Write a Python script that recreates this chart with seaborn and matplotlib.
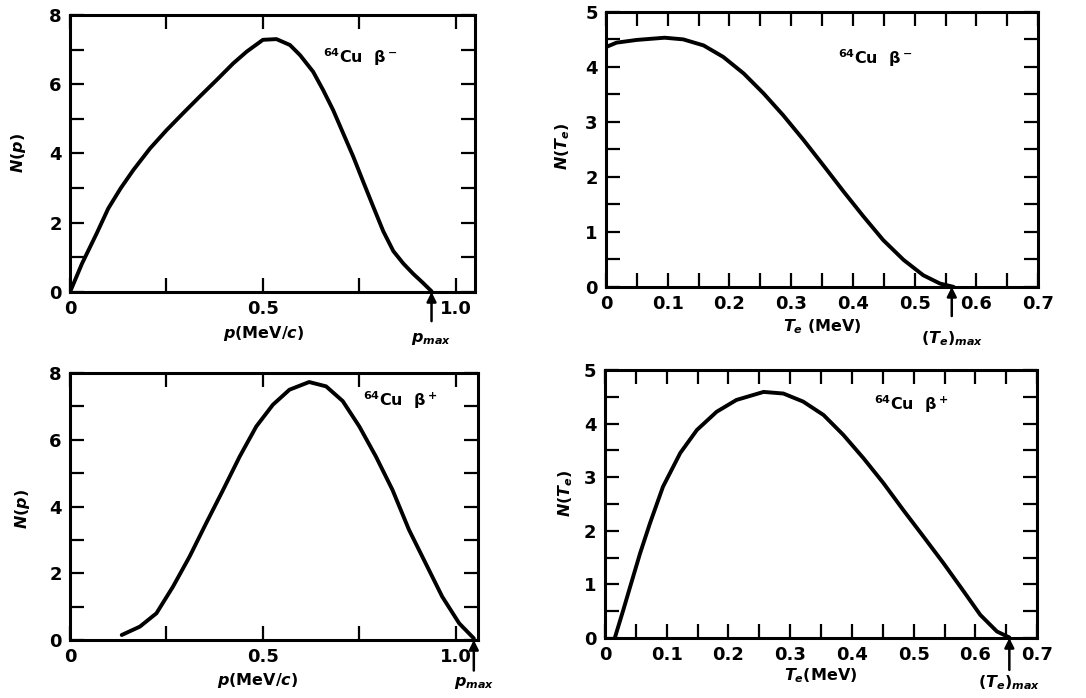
import numpy as np
import pandas as pd
import seaborn as sns
import matplotlib.pyplot as plt

# beta- momentum spectrum (top left)
p_minus = [0.0, 0.031, 0.069, 0.099, 0.131, 0.164, 0.207, 0.25, 0.293, 0.336,
           0.38, 0.423, 0.458, 0.50, 0.535, 0.57, 0.596, 0.63, 0.656, 0.682,
           0.708, 0.734, 0.76, 0.786, 0.812, 0.838, 0.864, 0.889, 0.915, 0.937]
Np_minus = [0.0, 0.82, 1.69, 2.41, 2.99, 3.52, 4.14, 4.67, 5.16, 5.64,
            6.12, 6.6, 6.94, 7.28, 7.3, 7.13, 6.84, 6.36, 5.83, 5.25,
            4.58, 3.91, 3.18, 2.46, 1.75, 1.18, 0.82, 0.53, 0.26, 0.02]

# beta- energy spectrum (top right)
T_minus = [0.0, 0.017, 0.05, 0.095, 0.125, 0.158, 0.19, 0.223, 0.255, 0.287,
           0.32, 0.352, 0.385, 0.417, 0.449, 0.482, 0.514, 0.541, 0.563]
NT_minus = [4.36, 4.44, 4.49, 4.53, 4.5, 4.39, 4.18, 3.88, 3.52, 3.12,
            2.67, 2.21, 1.73, 1.28, 0.85, 0.49, 0.21, 0.06, 0.0]

# beta+ momentum spectrum (bottom left)
p_plus = [0.134, 0.181, 0.224, 0.267, 0.31, 0.353, 0.397, 0.44, 0.483, 0.526,
          0.569, 0.62, 0.664, 0.707, 0.75, 0.793, 0.836, 0.879, 0.922, 0.965,
          1.009, 1.047]
Np_plus = [0.15, 0.4, 0.8, 1.6, 2.5, 3.5, 4.5, 5.5, 6.4, 7.05,
           7.5, 7.73, 7.6, 7.16, 6.4, 5.5, 4.5, 3.3, 2.3, 1.3,
           0.5, 0.05]

# beta+ energy spectrum (bottom right)
T_plus = [0.016, 0.03, 0.041, 0.057, 0.073, 0.094, 0.122, 0.149, 0.181, 0.213,
          0.257, 0.289, 0.321, 0.354, 0.386, 0.419, 0.451, 0.483, 0.516, 0.548,
          0.581, 0.608, 0.635, 0.655]
NT_plus = [0.0, 0.53, 0.96, 1.58, 2.14, 2.82, 3.45, 3.88, 4.22, 4.44,
           4.59, 4.56, 4.41, 4.16, 3.79, 3.35, 2.89, 2.39, 1.89, 1.4,
           0.87, 0.43, 0.12, 0.01]

p_max_minus = 0.937
T_max_minus = 0.56
p_max_plus = 1.047
T_max_plus = 0.655

sns.set_style("white")
plt.rcParams['font.family'] = ['DejaVu Sans']
plt.rcParams['text.color'] = 'black'
plt.rcParams['axes.labelcolor'] = 'black'
plt.rcParams['mathtext.fontset'] = 'custom'
plt.rcParams['mathtext.it'] = 'DejaVu Sans:italic:bold'
plt.rcParams['mathtext.rm'] = 'DejaVu Sans:bold'
plt.rcParams['mathtext.bf'] = 'DejaVu Sans:bold'

fig = plt.figure(figsize=(10.86, 6.98), dpi=100)
ax_tl = fig.add_axes([0.0645, 0.5817, 0.373, 0.397])
ax_tr = fig.add_axes([0.558, 0.589, 0.398, 0.394])
ax_bl = fig.add_axes([0.0645, 0.0831, 0.3757, 0.3825])
ax_br = fig.add_axes([0.557, 0.086, 0.398, 0.384])


def style_axes(ax, xlim, ylim, xticks, xlabels, yticks, ylabels):
    ax.set_xlim(*xlim)
    ax.set_ylim(*ylim)
    ax.set_xticks(xticks, xlabels)
    ax.set_yticks(yticks, ylabels)
    for s in ax.spines.values():
        s.set_linewidth(2.2)
        s.set_color("black")
    ax.tick_params(direction="in", bottom=True, left=True, top=True, right=True,
                   length=10, width=1.6, labelsize=13, pad=6, colors="black")
    for lab in ax.get_xticklabels() + ax.get_yticklabels():
        lab.set_fontweight("bold")


def mark_max(ax, xmax, text, arrow_len, text_off):
    ax.annotate("", xy=(xmax, 0), xycoords="data", xytext=(0, -arrow_len),
                textcoords="offset points", annotation_clip=False,
                arrowprops=dict(arrowstyle="-|>", color="black", lw=1.8,
                                mutation_scale=14, shrinkA=0, shrinkB=0))
    ax.annotate(text, xy=(xmax, 0), xycoords="data", xytext=(0, -text_off),
                textcoords="offset points", ha="center", va="center",
                fontsize=11.5, fontweight="bold", annotation_clip=False)


def draw_curve(ax, x, y):
    sns.lineplot(x=x, y=y, ax=ax, color="black", linewidth=2.8, sort=False,
                 solid_joinstyle="round", solid_capstyle="round")


# top left: N(p) for beta-
draw_curve(ax_tl, p_minus, Np_minus)
style_axes(ax_tl, (0, 1.05), (0, 8),
           [0, 0.25, 0.5, 0.75, 1.0], ["0", "", "0.5", "", "1.0"],
           range(0, 9), ["0", "", "2", "", "4", "", "6", "", "8"])
ax_tl.set_xlabel("$p$(MeV/$c$)", fontsize=11.5, fontweight="bold")
ax_tl.xaxis.set_label_coords(0.477, -0.115)
ax_tl.set_ylabel("$N(p)$", fontsize=11.5, fontweight="bold")
ax_tl.yaxis.set_label_coords(-0.105, 0.5)
ax_tl.text(0.655, 6.6, "$^{64}$Cu  β$^-$", fontsize=11.5, fontweight="bold")
mark_max(ax_tl, p_max_minus, "$p_{max}$", 21, 34)

# top right: N(T_e) for beta-
draw_curve(ax_tr, T_minus, NT_minus)
style_axes(ax_tr, (0, 0.7), (0, 5),
           np.arange(0, 0.701, 0.05),
           ["0", "", "0.1", "", "0.2", "", "0.3", "", "0.4", "", "0.5", "", "0.6", "", "0.7"],
           np.arange(0, 5.01, 0.5),
           ["0", "", "1", "", "2", "", "3", "", "4", "", "5"])
ax_tr.set_xlabel("$T_e$ (MeV)", fontsize=11.5, fontweight="bold")
ax_tr.xaxis.set_label_coords(0.50, -0.11)
ax_tr.set_ylabel("$N(T_e)$", fontsize=11.5, fontweight="bold")
ax_tr.yaxis.set_label_coords(-0.078, 0.51)
ax_tr.text(0.376, 4.05, "$^{64}$Cu  β$^-$", fontsize=11.5, fontweight="bold")
mark_max(ax_tr, T_max_minus, "$(T_e)_{max}$", 21, 37)

# bottom left: N(p) for beta+
draw_curve(ax_bl, p_plus, Np_plus)
style_axes(ax_bl, (0, 1.058), (0, 8),
           [0, 0.25, 0.5, 0.75, 1.0], ["0", "", "0.5", "", "1.0"],
           range(0, 9), ["0", "", "2", "", "4", "", "6", "", "8"])
ax_bl.set_xlabel("$p$(MeV/$c$)", fontsize=11.5, fontweight="bold")
ax_bl.xaxis.set_label_coords(0.46, -0.115)
ax_bl.set_ylabel("$N(p)$", fontsize=11.5, fontweight="bold")
ax_bl.yaxis.set_label_coords(-0.094, 0.49)
ax_bl.text(0.76, 7.0, "$^{64}$Cu  β$^+$", fontsize=11.5, fontweight="bold")
mark_max(ax_bl, p_max_plus, "$p_{max}$", 22, 31)

# bottom right: N(T_e) for beta+
draw_curve(ax_br, T_plus, NT_plus)
style_axes(ax_br, (0, 0.7), (0, 5),
           np.arange(0, 0.701, 0.05),
           ["0", "", "0.1", "", "0.2", "", "0.3", "", "0.4", "", "0.5", "", "0.6", "", "0.7"],
           np.arange(0, 5.01, 0.5),
           ["0", "", "1", "", "2", "", "3", "", "4", "", "5"])
ax_br.set_xlabel("$T_e$(MeV)", fontsize=11.5, fontweight="bold")
ax_br.xaxis.set_label_coords(0.50, -0.105)
ax_br.set_ylabel("$N(T_e)$", fontsize=11.5, fontweight="bold")
ax_br.yaxis.set_label_coords(-0.07, 0.54)
ax_br.text(0.436, 4.25, "$^{64}$Cu  β$^+$", fontsize=11.5, fontweight="bold")
mark_max(ax_br, T_max_plus, "$(T_e)_{max}$", 23, 32)

fig.savefig("out.png", dpi=100)
